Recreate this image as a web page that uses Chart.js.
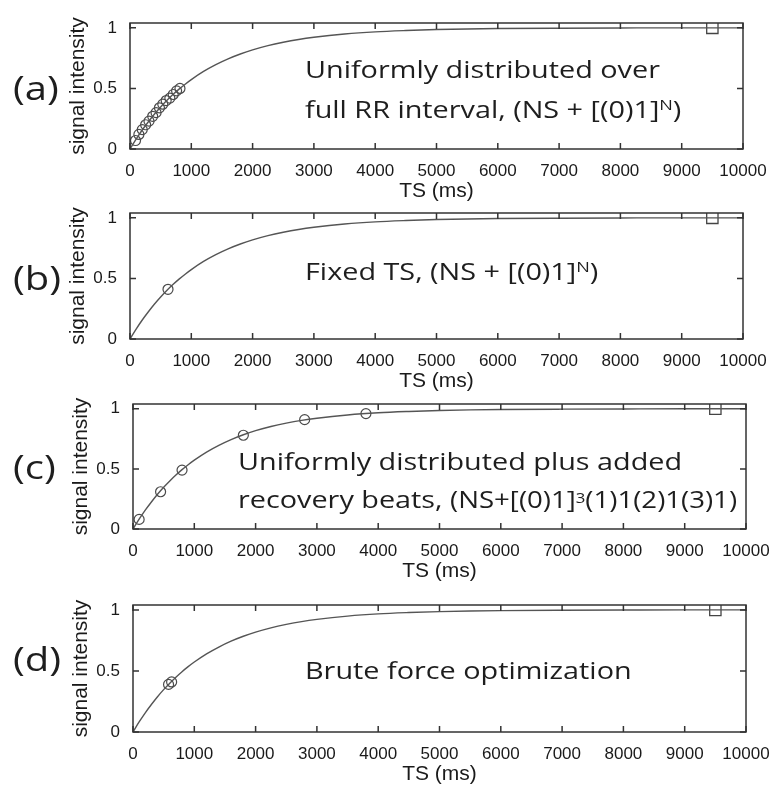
<!DOCTYPE html>
<html>
<head>
<meta charset="utf-8">
<script src="https://cdn.jsdelivr.net/npm/chart.js@4.4.1/dist/chart.umd.min.js"></script>
<style>
  html, body { margin: 0; padding: 0; background: #fff; }
  #figure { position: relative; width: 774px; height: 785px; overflow: hidden; background: #fff; }
  .panel { position: absolute; left: 0; width: 774px; }
</style>
</head>
<body>
<div id="figure">
  <div class="panel" style="top:1px;height:203px"><canvas id="panelA" width="774" height="203"></canvas></div>
  <div class="panel" style="top:191px;height:203px"><canvas id="panelB" width="774" height="203"></canvas></div>
  <div class="panel" style="top:382px;height:202px"><canvas id="panelC" width="774" height="202"></canvas></div>
  <div class="panel" style="top:583px;height:204px"><canvas id="panelD" width="774" height="204"></canvas></div>
</div>
<script>
// Recovery curve: signal intensity vs TS (ms)
const curveTS = [0, 100, 200, 300, 400, 500, 600, 700, 800, 900, 1000, 1200, 1400, 1600, 1800, 2000,
                 2250, 2500, 2750, 3000, 3500, 4000, 4500, 5000, 5500, 6000, 7000, 8000, 9000, 10000];
const curveSignal = [0, 0.082, 0.157, 0.225, 0.289, 0.347, 0.400, 0.449, 0.494, 0.535, 0.573, 0.640, 0.696,
                     0.744, 0.784, 0.818, 0.853, 0.881, 0.904, 0.922, 0.949, 0.967, 0.978, 0.986, 0.991,
                     0.994, 0.997, 0.999, 1, 1];

// Sampled TS per scheme
const uniformTS = [90, 145, 200, 255, 310, 370, 425, 480, 535, 590, 650, 705, 760, 815];
const uniformSignal = [0.07, 0.12, 0.16, 0.20, 0.23, 0.27, 0.30, 0.34, 0.37, 0.40, 0.42, 0.45, 0.48, 0.50];
const fixedTS = [620];
const fixedSignal = [0.41];
const recoveryTS = [100, 450, 800, 1800, 2800, 3800];
const recoverySignal = [0.08, 0.31, 0.49, 0.78, 0.91, 0.96];
const bruteTS = [580, 630];
const bruteSignal = [0.39, 0.41];

// Saturated reference sample
const refTS = [9500];
const refSignal = [1];

const xTickValues = [0, 1000, 2000, 3000, 4000, 5000, 6000, 7000, 8000, 9000, 10000];
const yTickValues = [0, 0.5, 1];

const toPoints = (xs, ys) => xs.map((x, i) => ({x: x, y: ys[i]}));

// Panel labels and annotation text (canvas pixel positions)
const notes = {
  panelA: {
    tag: {text: '(a)', x: 13, y: 98.5},
    lines: [
      {x: 305, y: 77, runs: [['Uniformly distributed over', 24, 0]]},
      {x: 305, y: 117, runs: [['full RR interval, (NS + [(0)1]', 24, 0], ['N', 15, 8], [')', 24, 0]]}
    ]
  },
  panelB: {
    tag: {text: '(b)', x: 13, y: 98.5},
    lines: [
      {x: 305, y: 89, runs: [['Fixed TS, (NS + [(0)1]', 24, 0], ['N', 15, 8], [')', 24, 0]]}
    ]
  },
  panelC: {
    tag: {text: '(c)', x: 13, y: 97},
    lines: [
      {x: 238, y: 88, runs: [['Uniformly distributed plus added', 24, 0]]},
      {x: 238, y: 126, runs: [['recovery beats, ', 24, 0], ['(NS+[(0)1]', 23, 0], ['3', 14, 5], ['(1)1(2)1(3)1)', 23, 0]]}
    ]
  },
  panelD: {
    tag: {text: '(d)', x: 13, y: 88},
    lines: [
      {x: 305, y: 96, runs: [['Brute force optimization', 24, 0]]}
    ]
  }
};

// Box frame with inward tick marks on all four sides
const boxAxes = {
  id: 'boxAxes',
  afterDatasetsDraw(chart) {
    const {ctx, chartArea: a, scales: {x, y}} = chart;
    const len = 6;
    ctx.save();
    ctx.strokeStyle = '#333';
    ctx.lineWidth = 1.5;
    ctx.strokeRect(a.left, a.top, a.right - a.left, a.bottom - a.top);
    ctx.beginPath();
    x.ticks.forEach(t => {
      const px = x.getPixelForValue(t.value);
      ctx.moveTo(px, a.bottom); ctx.lineTo(px, a.bottom - len);
      ctx.moveTo(px, a.top); ctx.lineTo(px, a.top + len);
    });
    y.ticks.forEach(t => {
      const py = y.getPixelForValue(t.value);
      ctx.moveTo(a.left, py); ctx.lineTo(a.left + len, py);
      ctx.moveTo(a.right, py); ctx.lineTo(a.right - len, py);
    });
    ctx.stroke();
    ctx.restore();
  }
};

const panelText = {
  id: 'panelText',
  afterDraw(chart) {
    const n = notes[chart.canvas.id];
    if (!n) return;
    const ctx = chart.ctx;
    ctx.save();
    ctx.fillStyle = '#1e1e1e';
    ctx.textBaseline = 'alphabetic';
    ctx.textAlign = 'left';

    ctx.save();
    ctx.translate(n.tag.x, n.tag.y);
    ctx.scale(1.25, 1);
    ctx.font = '32px "Open Sans"';
    ctx.fillText(n.tag.text, 0, 0);
    ctx.restore();

    n.lines.forEach(line => {
      ctx.save();
      ctx.translate(line.x, line.y);
      ctx.scale(1.2, 1);
      let cx = 0;
      line.runs.forEach(([t, size, rise]) => {
        ctx.font = size + 'px "Open Sans"';
        ctx.fillText(t, cx, -rise);
        cx += ctx.measureText(t).width;
      });
      ctx.restore();
    });
    ctx.restore();
  }
};

function makePanel(id, samples, geom) {
  const canvas = document.getElementById(id);
  return new Chart(canvas, {
    type: 'scatter',
    data: {
      datasets: [
        {
          data: toPoints(curveTS, curveSignal),
          showLine: true,
          borderColor: '#555',
          borderWidth: 1.4,
          pointRadius: 0,
          cubicInterpolationMode: 'monotone'
        },
        {
          data: samples,
          pointStyle: 'circle',
          pointRadius: 5,
          borderColor: '#4a4a4a',
          backgroundColor: 'rgba(0,0,0,0)',
          borderWidth: 1.2
        },
        {
          data: toPoints(refTS, refSignal),
          pointStyle: 'rect',
          pointRadius: 8,
          borderColor: '#444',
          backgroundColor: 'rgba(0,0,0,0)',
          borderWidth: 1.3
        }
      ]
    },
    options: {
      responsive: false,
      animation: false,
      devicePixelRatio: 1,
      layout: { padding: { top: 22, right: 774 - geom.right, bottom: 0, left: 0 } },
      plugins: { legend: { display: false }, tooltip: { enabled: false } },
      scales: {
        x: {
          type: 'linear',
          min: 0,
          max: 10000,
          grid: { display: false },
          border: { display: false },
          afterBuildTicks: s => { s.ticks = xTickValues.map(v => ({value: v})); },
          afterFit: s => { s.height = 55; },
          ticks: {
            padding: 4,
            color: '#1a1a1a',
            font: { family: '"Liberation Sans", Arial, sans-serif', size: 17 },
            callback: v => String(v)
          },
          title: {
            display: true,
            text: 'TS (ms)',
            color: '#1a1a1a',
            padding: { top: 0, bottom: 0 },
            font: { family: '"Liberation Sans", Arial, sans-serif', size: 21 }
          }
        },
        y: {
          min: 0,
          max: 1.04,
          grid: { display: false },
          border: { display: false },
          afterBuildTicks: s => { s.ticks = yTickValues.map(v => ({value: v})); },
          afterFit: s => { s.width = geom.left; },
          ticks: {
            padding: 5,
            color: '#1a1a1a',
            font: { family: '"Liberation Sans", Arial, sans-serif', size: 17 },
            callback: v => String(v)
          },
          title: {
            display: true,
            text: 'signal intensity',
            color: '#1a1a1a',
            padding: { top: geom.left - 52 - 12.6, bottom: 0 },
            font: { family: '"Liberation Sans", Arial, sans-serif', size: 21 }
          }
        }
      }
    },
    plugins: [boxAxes, panelText]
  });
}

makePanel('panelA', toPoints(uniformTS, uniformSignal), {left: 130, right: 743});
makePanel('panelB', toPoints(fixedTS, fixedSignal), {left: 130, right: 743});
makePanel('panelC', toPoints(recoveryTS, recoverySignal), {left: 133, right: 746});
makePanel('panelD', toPoints(bruteTS, bruteSignal), {left: 133, right: 746});
</script>
</body>
</html>
